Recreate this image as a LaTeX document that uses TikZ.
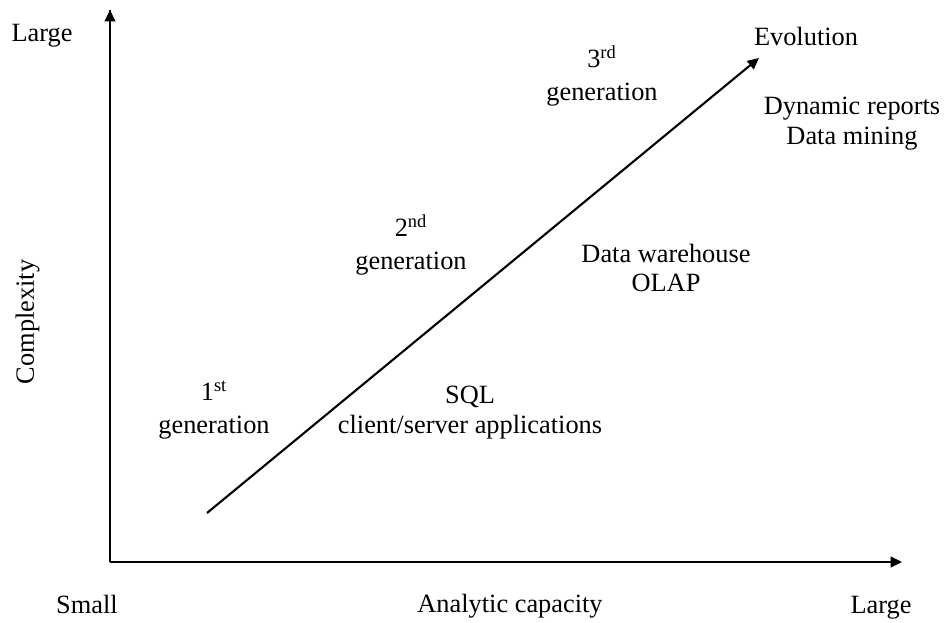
\documentclass[tikz,border=0pt]{standalone}
\usepackage{fontspec}
\setmainfont{Liberation Serif}
\usetikzlibrary{arrows.meta}

\begin{document}
\begin{tikzpicture}[
    lbl/.style={font=\fontsize{15}{17}\selectfont, align=center},
    axis/.style={line width=1.2pt, -{Triangle[length=6.5pt,width=6pt]}}
  ]
  \useasboundingbox (0,0) rectangle (18.92,12.44);
  % axes
  \coordinate (origin) at (2.2,1.2);
  \coordinate (ytip) at (2.2,12.24);
  \coordinate (xtip) at (18.04,1.2);
  \draw[axis] (ytip |- origin) -- (ytip);
  \draw[line width=1.2pt] (origin) -- (origin |- ytip);
  \draw[axis] (origin) -- (xtip);
  \node[lbl] (ylarge) at (0.84,11.72) {Large};
  \node[lbl,rotate=90] (ylabel) at (0.55,6.0) {Complexity};
  \node[lbl] (xsmall) at (1.74,0.36) {Small};
  \node[lbl] (xlabel) at (10.2,0.32) {Analytic capacity};
  \node[lbl] (xlarge) at (17.62,0.28) {Large};
  % evolution arrow
  \coordinate (evostart) at (4.14,2.18);
  \coordinate (evoend) at (15.18,11.28);
  \draw[axis] (evostart) -- (evoend);
  \node[lbl] (evolution) at (16.12,11.72) {Evolution};
  % generations
  \node[lbl] (gen1) at (4.28,4.24) {1\textsuperscript{st}\\[2pt]generation};
  \node[lbl] (gen2) at (8.22,7.54) {2\textsuperscript{nd}\\[2pt]generation};
  \node[lbl] (gen3) at (12.04,10.92) {3\textsuperscript{rd}\\[2pt]generation};
  % technologies
  \node[lbl] (sql) at (9.4,4.18) {SQL\\client/server applications};
  \node[lbl] (dwh) at (13.32,7.08) {Data warehouse\\OLAP};
  \node[lbl] (mining) at (17.04,9.96) {Dynamic reports\\Data mining};
\end{tikzpicture}
\end{document}
